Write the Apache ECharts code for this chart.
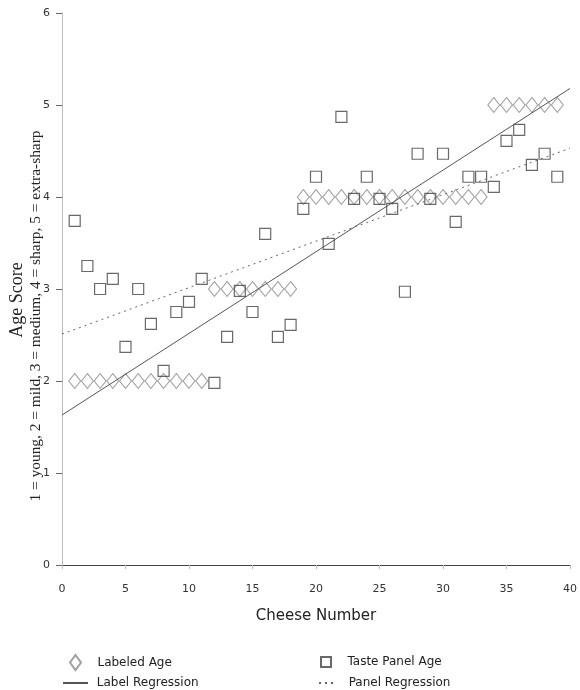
<!DOCTYPE html>
<html>
<head>
<meta charset="utf-8">
<script src="https://cdn.jsdelivr.net/npm/echarts@6/dist/echarts.min.js"></script>
<style>html,body{margin:0;padding:0;background:#fff}#c{width:580px;height:690px}</style>
</head>
<body>
<div id="c"></div>
<script>
// Cheese number 1..39
const cheeseNumbers = [1,2,3,4,5,6,7,8,9,10,11,12,13,14,15,16,17,18,19,20,21,22,23,24,25,26,27,28,29,30,31,32,33,34,35,36,37,38,39];
// Labeled age (from package label)
const labeledAge = [2,2,2,2,2,2,2,2,2,2,2,3,3,3,3,3,3,3,4,4,4,4,4,4,4,4,4,4,4,4,4,4,4,5,5,5,5,5,5];
// Taste panel age score
const panelAge = [3.74,3.25,3.00,3.11,2.37,3.00,2.62,2.11,2.75,2.86,3.11,1.98,2.48,2.98,2.75,3.60,2.48,2.61,3.87,4.22,3.49,4.87,3.98,4.22,3.98,3.87,2.97,4.47,3.98,4.47,3.73,4.22,4.22,4.11,4.61,4.73,4.35,4.47,4.22];
// Regression line endpoints
const labelRegression = [[0,1.63],[40,5.18]];
const panelRegression = [[0,2.51],[40,4.53]];
const xTicks = [0,5,10,15,20,25,30,35,40];
const yTicks = [0,1,2,3,4,5,6];

const labeledData = cheeseNumbers.map((x,i)=>[x,labeledAge[i]]);
const panelData = cheeseNumbers.map((x,i)=>[x,panelAge[i]]);

const chart = echarts.init(document.getElementById('c'), null, {renderer:'canvas'});
const sans = 'DejaVu Sans';
const legendText = {fontFamily:sans,fontSize:12,color:'#222'};
const noSymbol = {color:'rgba(0,0,0,0)',borderColor:'rgba(0,0,0,0)',borderWidth:0};
function oneLegend(name, left, top, w, h, pad, extra){
  return Object.assign({left:left,top:top,orient:'vertical',itemWidth:w,itemHeight:h,itemGap:0,padding:0,
    textStyle:legendText,data:[name],formatter:pad+'{name}'}, extra||{});
}
chart.setOption({
  animation:false,
  backgroundColor:'#ffffff',
  grid:{left:62,right:10,top:13,bottom:125,containLabel:false},
  xAxis:{
    type:'value',min:xTicks[0],max:xTicks[xTicks.length-1],interval:5,
    name:'Cheese Number',nameLocation:'middle',nameGap:44,
    nameTextStyle:{fontFamily:sans,fontSize:15,color:'#222'},
    axisLine:{show:true,lineStyle:{color:'#444',width:1}},
    axisTick:{show:true,length:4,lineStyle:{color:'#bbb'}},
    axisLabel:{fontFamily:sans,fontSize:11,color:'#333',margin:19},
    splitLine:{show:false}
  },
  yAxis:{
    type:'value',min:yTicks[0],max:yTicks[yTicks.length-1],interval:1,
    axisLine:{show:true,lineStyle:{color:'#bbb',width:1}},
    axisTick:{show:true,length:6,lineStyle:{color:'#666'}},
    axisLabel:{fontFamily:sans,fontSize:11,color:'#333',margin:12},
    splitLine:{show:false}
  },
  legend:[
    oneLegend('Labeled Age',69,654,11,15,'   '),
    oneLegend('Label Regression',62,677,25,14,' ',{itemStyle:noSymbol}),
    oneLegend('Taste Panel Age',320,656,10,10,'   '),
    oneLegend('Panel Regression',318,677,17,14,'  ',{itemStyle:noSymbol})
  ],
  graphic:[
    {type:'text',x:17,y:300,rotation:Math.PI/2,
     style:{text:'Age Score',font:'18px "Liberation Serif"',fill:'#222',align:'center',verticalAlign:'middle'}},
    {type:'text',x:36,y:316,rotation:Math.PI/2,scaleX:1.1,
     style:{text:'1 = young, 2 = mild, 3 = medium, 4 = sharp, 5 = extra-sharp',font:'14px "Liberation Serif"',fill:'#222',align:'center',verticalAlign:'middle'}}
  ],
  series:[
    {name:'Labeled Age',type:'scatter',symbol:'diamond',symbolSize:[12,15],data:labeledData,
     itemStyle:{color:'rgba(255,255,255,0)',borderColor:'#888',borderWidth:1},z:2},
    {name:'Taste Panel Age',type:'scatter',symbol:'rect',symbolSize:11,data:panelData,
     itemStyle:{color:'rgba(255,255,255,0)',borderColor:'#444',borderWidth:1.2},z:3},
    {name:'Label Regression',type:'line',data:labelRegression,symbol:'none',
     lineStyle:{color:'#555',width:1},itemStyle:{color:'#555'},z:4},
    {name:'Panel Regression',type:'line',data:panelRegression,symbol:'none',
     lineStyle:{color:'#666',width:1,type:[2,4]},itemStyle:{color:'#666'},z:4}
  ]
});
</script>
</body>
</html>
